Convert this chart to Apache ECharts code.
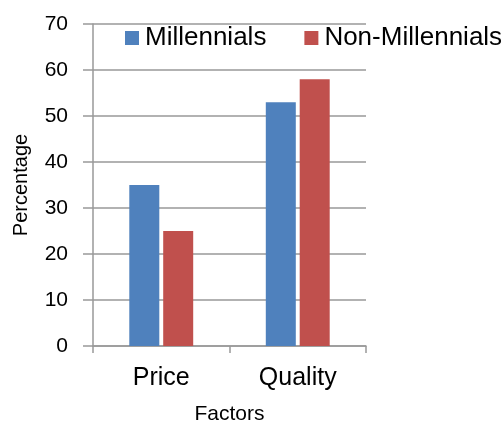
<!DOCTYPE html>
<html>
<head>
<meta charset="utf-8">
<script src="https://cdn.jsdelivr.net/npm/echarts@6/dist/echarts.min.js"></script>
<style>
  html, body { margin: 0; padding: 0; background: #fff; }
  #chart { width: 502px; height: 430px; }
</style>
</head>
<body>
<div id="chart"></div>
<script>
// Survey factors and share of respondents (%) per group
const factors = ['Price', 'Quality'];
const millennials = [35, 53];
const nonMillennials = [25, 58];
const seriesNames = ['Millennials', 'Non-Millennials'];
const yTicks = { min: 0, max: 70, interval: 10 };

const gridColor = '#999999';
const font = 'Liberation Sans, Arial, sans-serif';

const chart = echarts.init(document.getElementById('chart'), null, { renderer: 'canvas' });

chart.setOption({
  animation: false,
  backgroundColor: '#ffffff',
  textStyle: { fontFamily: font, color: '#000' },
  grid: { left: 93, right: 136, top: 24, bottom: 77, containLabel: false },
  legend: {
    data: seriesNames,
    left: 120,
    top: 20,
    width: 420,
    orient: 'horizontal',
    icon: 'rect',
    itemWidth: 14,
    itemHeight: 14,
    itemGap: 38,
    textStyle: { fontFamily: font, fontSize: 26, color: '#000', padding: [0, 0, 0, 1] }
  },
  xAxis: {
    type: 'category',
    data: factors,
    name: 'Factors',
    nameLocation: 'middle',
    nameGap: 58,
    nameTextStyle: { fontFamily: font, fontSize: 21, color: '#000' },
    axisLine: { lineStyle: { color: gridColor, width: 1.5 } },
    axisTick: { show: true, length: 7, lineStyle: { color: gridColor, width: 1.5 } },
    axisLabel: { fontFamily: font, fontSize: 25, color: '#000', margin: 20 }
  },
  yAxis: {
    type: 'value',
    min: yTicks.min,
    max: yTicks.max,
    interval: yTicks.interval,
    name: 'Percentage',
    nameLocation: 'middle',
    nameGap: 62,
    nameTextStyle: { fontFamily: font, fontSize: 20, color: '#000' },
    axisLine: { show: true, lineStyle: { color: gridColor, width: 1.5 } },
    axisTick: { show: true, length: 10, lineStyle: { color: gridColor, width: 1.5 } },
    axisLabel: { fontFamily: font, fontSize: 21, color: '#000', margin: 25 },
    splitLine: { show: true, lineStyle: { color: gridColor, width: 1.5 } }
  },
  series: [
    {
      name: seriesNames[0],
      type: 'bar',
      data: millennials,
      barWidth: 30,
      barGap: '13%',
      itemStyle: { color: '#4F81BD' }
    },
    {
      name: seriesNames[1],
      type: 'bar',
      data: nonMillennials,
      barWidth: 30,
      barGap: '13%',
      itemStyle: { color: '#C0504D' }
    }
  ]
});
</script>
</body>
</html>
